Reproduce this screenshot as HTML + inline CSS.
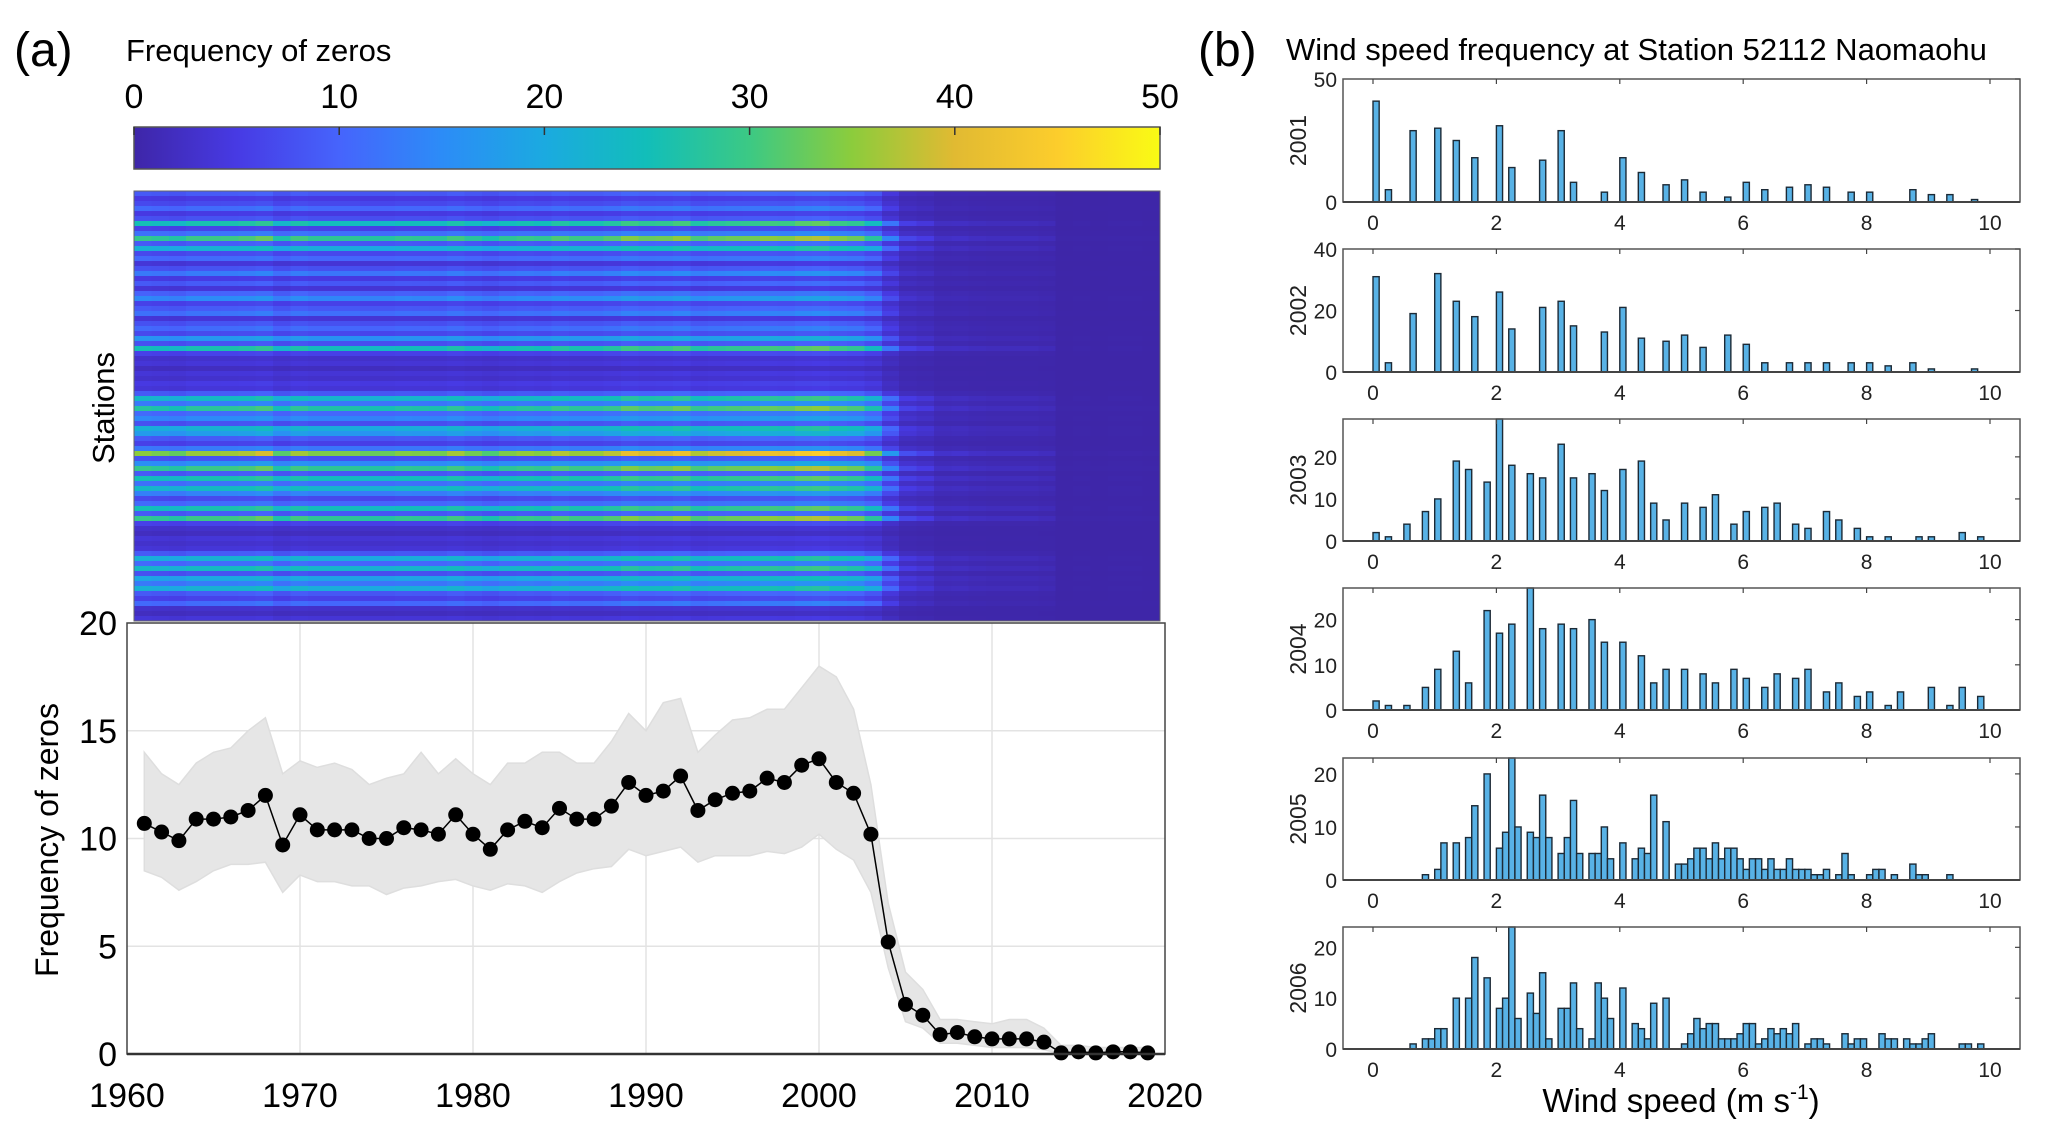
<!DOCTYPE html>
<html><head><meta charset="utf-8">
<style>
html,body{margin:0;padding:0;background:#fff;}
svg{display:block;font-family:"Liberation Sans",Arial,sans-serif;}
.nar{font-family:"Liberation Sans Narrow","Liberation Sans",sans-serif;}
</style></head>
<body>
<svg id="fig" width="2067" height="1141" viewBox="0 0 2067 1141" xmlns="http://www.w3.org/2000/svg">
<text x="14" y="66" font-size="48">(a)</text>
<text x="126" y="61" font-size="31">Frequency of zeros</text>
<text x="1198" y="66" font-size="48">(b)</text>
<text x="1286" y="60" font-size="31">Wind speed frequency at Station 52112 Naomaohu</text>
<g id="cbar"></g>
<g id="heat"></g>
<text transform="translate(114,408) rotate(-90)" text-anchor="middle" font-size="31">Stations</text>
<g id="line"></g>
<text transform="translate(58,840) rotate(-90)" text-anchor="middle" font-size="32">Frequency of zeros</text>
<g id="hists"></g>
<text x="1681" y="1112" text-anchor="middle" font-size="33">Wind speed (m s<tspan dy="-13" font-size="21">-1</tspan><tspan dy="13">)</tspan></text>
</svg>
<script>
// ---------- data ----------
const years = [];
for (let y = 1961; y <= 2019; y++) years.push(y);
const meanZeros = [10.7,10.3,9.9,10.9,10.9,11.0,11.3,12.0,9.7,11.1,10.4,10.4,10.4,10.0,10.0,10.5,10.4,10.2,11.1,10.2,9.5,10.4,10.8,10.5,11.4,10.9,10.9,11.5,12.6,12.0,12.2,12.9,11.3,11.8,12.1,12.2,12.8,12.6,13.4,13.7,12.6,12.1,10.2,5.2,2.3,1.8,0.9,1.0,0.8,0.7,0.7,0.7,0.55,0.05,0.1,0.05,0.1,0.1,0.05];
const upperZeros = [14,13,12.5,13.5,14,14.2,15,15.6,13,13.6,13.3,13.5,13.2,12.5,12.8,13,14,13,13.7,13,12.5,13.5,13.5,14,14,13.5,13.5,14.5,15.8,15,16.3,16.5,14,14.8,15.5,15.6,16,16,17,18,17.5,16,12.5,7,3.8,3,1.6,1.6,1.5,1.4,1.6,1.6,1.2,0.4,0.4,0.3,0.3,0.3,0.3];
const lowerZeros = [8.5,8.2,7.6,8,8.5,8.8,8.8,8.9,7.5,8.3,8,8,7.8,7.8,7.4,7.7,7.8,8,8.1,7.8,7.6,7.9,7.8,7.5,8,8.4,8.6,8.7,9.5,9.2,9.4,9.6,8.9,9.2,9.2,9.2,9.4,9.3,9.6,10.2,9.5,9,7.5,4,1.5,1.2,0.5,0.5,0.4,0.3,0.3,0.3,0.2,0,0,0,0,0,0];
const lineYTicks = [0,5,10,15,20];
const lineXTicks = [1960,1970,1980,1990,2000,2010,2020];
const stationLevels = [9,5,7,11,5,8,26,6,12,30,9,22,7,11,4,8,13,5,9,4,10,15,6,9,12,4,8,11,7,17,8,26,6,3,4,2,4,3,5,4,9,24,13,28,11,15,8,22,18,9,6,13,36,8,16,30,9,26,12,24,14,7,11,26,9,30,6,3,2,4,3,4,9,22,11,24,8,20,13,22,9,6,11,3,2,4];
const cbarTicks = [0,10,20,30,40,50];
const histYears = ["2001","2002","2003","2004","2005","2006"];
const histYMax = [50,40,29,27,23,24];
const histYTicks = [[0,50],[0,20,40],[0,10,20],[0,10,20],[0,10,20],[0,10,20]];
const histXTicks = [0,2,4,6,8,10];
const speeds2001 = [0.05,0.25,0.65,1.05,1.35,1.65,2.05,2.25,2.75,3.05,3.25,3.75,4.05,4.35,4.75,5.05,5.35,5.75,6.05,6.35,6.75,7.05,7.35,7.75,8.05,8.75,9.05,9.35,9.75];
const counts2001 = [41,5,29,30,25,18,31,14,17,29,8,4,18,12,7,9,4,2,8,5,6,7,6,4,4,5,3,3,1];
const speeds2002 = [0.05,0.25,0.65,1.05,1.35,1.65,2.05,2.25,2.75,3.05,3.25,3.75,4.05,4.35,4.75,5.05,5.35,5.75,6.05,6.35,6.75,7.05,7.35,7.75,8.05,8.35,8.75,9.05,9.75];
const counts2002 = [31,3,19,32,23,18,26,14,21,23,15,13,21,11,10,12,8,12,9,3,3,3,3,3,3,2,3,1,1];
const speeds2003 = [0.05,0.25,0.55,0.85,1.05,1.35,1.55,1.85,2.05,2.25,2.55,2.75,3.05,3.25,3.55,3.75,4.05,4.35,4.55,4.75,5.05,5.35,5.55,5.85,6.05,6.35,6.55,6.85,7.05,7.35,7.55,7.85,8.05,8.35,8.85,9.05,9.55,9.85];
const counts2003 = [2,1,4,7,10,19,17,14,29,18,16,15,23,15,16,12,17,19,9,5,9,8,11,4,7,8,9,4,3,7,5,3,1,1,1,1,2,1];
const speeds2004 = [0.05,0.25,0.55,0.85,1.05,1.35,1.55,1.85,2.05,2.25,2.55,2.75,3.05,3.25,3.55,3.75,4.05,4.35,4.55,4.75,5.05,5.35,5.55,5.85,6.05,6.35,6.55,6.85,7.05,7.35,7.55,7.85,8.05,8.35,8.55,9.05,9.35,9.55,9.85];
const counts2004 = [2,1,1,5,9,13,6,22,17,19,27,18,19,18,20,15,15,12,6,9,9,8,6,9,7,5,8,7,9,4,6,3,4,1,4,5,1,5,3];
const speeds2005 = [0.85,1.05,1.15,1.35,1.55,1.65,1.85,2.05,2.15,2.25,2.35,2.55,2.65,2.75,2.85,3.05,3.15,3.25,3.35,3.55,3.65,3.75,3.85,4.05,4.25,4.35,4.45,4.55,4.75,4.95,5.05,5.15,5.25,5.35,5.45,5.55,5.65,5.75,5.85,5.95,6.05,6.15,6.25,6.35,6.45,6.55,6.65,6.75,6.85,6.95,7.05,7.15,7.25,7.35,7.55,7.65,7.75,8.05,8.15,8.25,8.45,8.75,8.85,8.95,9.35];
const counts2005 = [1,2,7,7,8,14,20,6,9,23,10,9,8,16,8,5,8,15,5,5,5,10,4,7,4,6,5,16,11,3,3,4,6,6,4,7,4,6,6,4,2,4,4,2,4,2,2,4,2,2,2,1,1,2,1,5,1,1,2,2,1,3,1,1,1];
const speeds2006 = [0.65,0.85,0.95,1.05,1.15,1.35,1.55,1.65,1.85,2.05,2.15,2.25,2.35,2.55,2.65,2.75,2.85,3.05,3.15,3.25,3.35,3.55,3.65,3.75,3.85,4.05,4.25,4.35,4.45,4.55,4.75,5.05,5.15,5.25,5.35,5.45,5.55,5.65,5.75,5.85,5.95,6.05,6.15,6.25,6.35,6.45,6.55,6.65,6.75,6.85,7.05,7.15,7.25,7.35,7.65,7.75,7.85,7.95,8.25,8.35,8.45,8.65,8.75,8.85,8.95,9.05,9.55,9.65,9.85];
const counts2006 = [1,2,2,4,4,10,10,18,14,8,10,24,6,11,7,15,2,8,8,13,4,2,13,10,6,12,5,4,2,9,10,1,3,6,4,5,5,2,2,2,3,5,5,1,2,4,3,4,3,5,1,2,2,1,3,1,2,2,3,2,2,2,1,1,2,3,1,1,1];
const histSpeeds = [speeds2001,speeds2002,speeds2003,speeds2004,speeds2005,speeds2006];
const histCounts = [counts2001,counts2002,counts2003,counts2004,counts2005,counts2006];

// ---------- helpers ----------
const NS = "http://www.w3.org/2000/svg";
function mk(parent, tag, attrs, text) {
  const e = document.createElementNS(NS, tag);
  for (const k in attrs) e.setAttribute(k, attrs[k]);
  if (text !== undefined) e.textContent = text;
  parent.appendChild(e);
  return e;
}
const parulaStops = [[62,38,168],[71,58,228],[70,100,252],[44,140,247],[27,170,224],[18,190,185],[60,201,132],[140,204,60],[225,186,50],[252,205,44],[249,251,20]];
function parula(v) {
  let t = Math.max(0, Math.min(1, v / 50)) * 10;
  const i = Math.min(9, Math.floor(t)), f = t - i;
  const a = parulaStops[i], b = parulaStops[i + 1];
  return "rgb(" + a.map((x, k) => Math.round(x + (b[k] - x) * f)).join(",") + ")";
}

// ---------- colorbar ----------
const cb = document.getElementById("cbar");
const cbL = 134, cbR = 1160, cbT = 127, cbB = 169;
const cbx = v => cbL + v / 50 * (cbR - cbL);
const grad = mk(document.getElementById("fig"), "defs", {});
const lg = mk(grad, "linearGradient", {id: "parula", x1: "0", x2: "1", y1: "0", y2: "0"});
for (let i = 0; i <= 10; i++) mk(lg, "stop", {offset: i / 10, "stop-color": parula(i * 5)});
let r = mk(cb, "rect", {x: cbL, y: cbT, width: cbR - cbL, height: cbB - cbT, fill: "url(#parula)", stroke: "#555", "stroke-width": 1.5});


cbarTicks.forEach(v => {
  mk(cb, "line", {x1: cbx(v), x2: cbx(v), y1: cbT, y2: cbT + 8, stroke: "#333", "stroke-width": 1.5});
  const t = mk(cb, "text", {x: cbx(v), y: 108, "text-anchor": "middle", "font-size": 34, class: "nar"}, String(v));
  
  
});

// ---------- heatmap ----------
const hm = document.getElementById("heat");
const hL = 134, hR = 1160, hT = 191, hB = 621;
const nRows = stationLevels.length, nCols = years.length;
const cw = (hR - hL) / nCols, rh = (hB - hT) / nRows;
mk(hm, "rect", {x: hL, y: hT, width: hR - hL, height: hB - hT, fill: parula(0)});
const meanAvg = 11;
for (let ri = 0; ri < nRows; ri++) {
  for (let ci = 0; ci < nCols; ci++) {
    const v = stationLevels[ri] * meanZeros[ci] / meanAvg;
    const c = mk(hm, "rect", {x: (hL + ci * cw).toFixed(2), y: (hT + ri * rh).toFixed(2), width: (cw + 0.6).toFixed(2), height: (rh + 0.6).toFixed(2), fill: parula(v), "shape-rendering": "crispEdges"});
    
    
  }
}
mk(hm, "rect", {x: hL, y: hT, width: hR - hL, height: hB - hT, fill: "none", stroke: "#666", "stroke-width": 1});

// ---------- line chart ----------
const lc = document.getElementById("line");
const pL = 127, pR = 1165, pT = 623, pB = 1054;
const lx = y => pL + (y - 1960) / 60 * (pR - pL);
const ly = v => pB - v / 20 * (pB - pT);
mk(lc, "rect", {x: pL, y: pT, width: pR - pL, height: pB - pT, fill: "#fff"});
lineXTicks.forEach(y => {
  if (y > 1960 && y < 2020) mk(lc, "line", {x1: lx(y), x2: lx(y), y1: pT, y2: pB, stroke: "#e3e3e3", "stroke-width": 1.5});
  const t = mk(lc, "text", {x: lx(y), y: 1107, "text-anchor": "middle", "font-size": 34, class: "nar"}, String(y));
  
  
});
lineYTicks.forEach(v => {
  if (v > 0 && v < 20) mk(lc, "line", {x1: pL, x2: pR, y1: ly(v), y2: ly(v), stroke: "#e3e3e3", "stroke-width": 1.5});
  const t = mk(lc, "text", {x: 117, y: ly(v) + 12, "text-anchor": "end", "font-size": 34, class: "nar"}, String(v));
  
  
});
let env = years.map((y, i) => lx(y).toFixed(1) + "," + ly(upperZeros[i]).toFixed(1)).join(" ") + " " +
  years.map((y, i) => lx(y).toFixed(1) + "," + ly(lowerZeros[i]).toFixed(1)).reverse().join(" ");
const envp = mk(lc, "polygon", {points: env, fill: "#e6e6e6", stroke: "#dedede", "stroke-width": 1.5});


const meanPts = years.map((y, i) => lx(y).toFixed(1) + "," + ly(meanZeros[i]).toFixed(1)).join(" ");
const ml = mk(lc, "polyline", {points: meanPts, fill: "none", stroke: "#000", "stroke-width": 1.5});


years.forEach((y, i) => {
  const d = mk(lc, "circle", {cx: lx(y), cy: ly(meanZeros[i]), r: 7.5, fill: "#000"});
  
  
});
mk(lc, "rect", {x: pL, y: pT, width: pR - pL, height: pB - pT, fill: "none", stroke: "#444", "stroke-width": 1.5});
mk(lc, "line", {x1: pL, x2: pR, y1: pB, y2: pB, stroke: "#333", "stroke-width": 2.5});

// ---------- histograms ----------
const hg = document.getElementById("hists");
const bL = 1343, bR = 2020;
const tops = [79, 249, 419, 588, 758, 927], bots = [202, 372, 541, 710, 880, 1049];
const bx = v => 1373 + v * (1990 - 1373) / 10;
histYears.forEach((yr, k) => {
  const g = mk(hg, "g", {});
  
  
  const T = tops[k], B = bots[k];
  const by = v => B - Math.min(v, histYMax[k]) / histYMax[k] * (B - T);
  mk(g, "rect", {x: bL, y: T, width: bR - bL, height: B - T, fill: "#fff"});
  histSpeeds[k].forEach((s, i) => {
    const c = histCounts[k][i];
    const b = mk(g, "rect", {x: bx(s - 0.05), y: by(c), width: bx(0.1) - bx(0), height: B - by(c), fill: "#58b2e6", stroke: "#1c2a36", "stroke-width": 1.4});
    
    
  });
  mk(g, "rect", {x: bL, y: T, width: bR - bL, height: B - T, fill: "none", stroke: "#555", "stroke-width": 1.5});
  mk(g, "line", {x1: bL, x2: bR, y1: B, y2: B, stroke: "#444", "stroke-width": 2});
  histXTicks.forEach(v => {
    mk(g, "line", {x1: bx(v), x2: bx(v), y1: T, y2: T + 5, stroke: "#444", "stroke-width": 1.2});
    const t = mk(g, "text", {x: bx(v), y: B + 28, "text-anchor": "middle", "font-size": 21, fill: "#222", class: "nar"}, String(v));
    
    
  });
  histYTicks[k].forEach(v => {
    const yy = B - v / histYMax[k] * (B - T);
    mk(g, "line", {x1: bR, x2: bR - 5, y1: yy, y2: yy, stroke: "#444", "stroke-width": 1.2});
    const t = mk(g, "text", {x: 1337, y: yy + 8, "text-anchor": "end", "font-size": 21, fill: "#222", class: "nar"}, String(v));
    
    
  });
  const yl = mk(g, "text", {transform: "translate(1306," + ((T + B) / 2) + ") rotate(-90)", "text-anchor": "middle", "font-size": 23, fill: "#222"}, yr);
  
  
});
</script>
</body></html>
